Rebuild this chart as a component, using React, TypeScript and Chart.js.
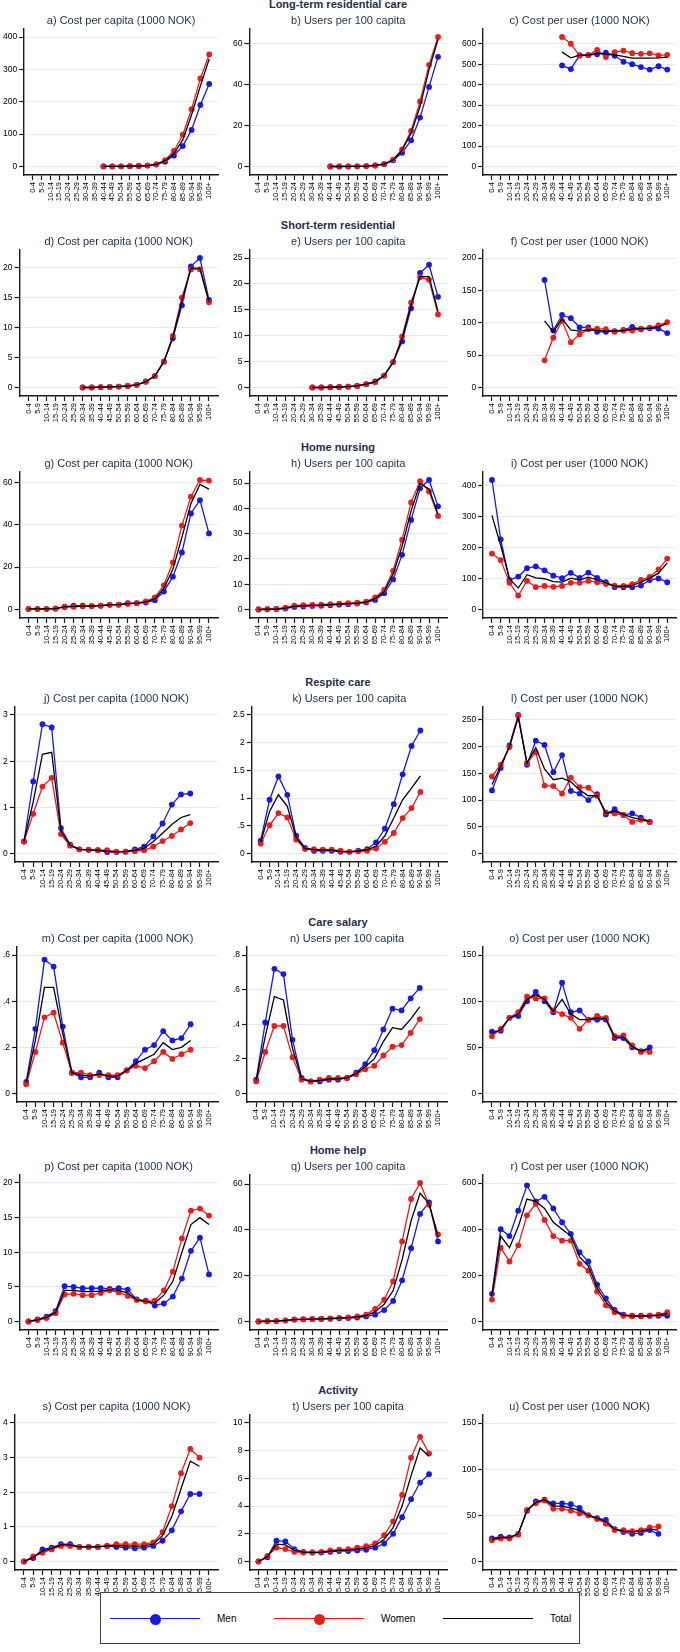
import React, { useEffect, useRef } from 'react';
import { Chart, registerables } from 'chart.js';
Chart.register(...registerables);

const n = null;
const AGES = ['0-4','5-9','10-14','15-19','20-24','25-29','30-34','35-39','40-44','45-49','50-54','55-59','60-64','65-69','70-74','75-79','80-84','85-89','90-94','95-99','100+'];

// Long-term residential care
const A_MEN = [n,n,n,n,n,n,n,n,0.2,0.3,0.5,1,1.5,3,6,15,34,63,113,190,255];
const A_WOMEN = [n,n,n,n,n,n,n,n,0.2,0.3,0.5,1,1.5,3,7,20,48,98,177,272,346];
const A_TOTAL = [n,n,n,n,n,n,n,n,0.2,0.3,0.5,1,1.5,3,6.5,18,40,82,160,249,332];
const A_TICKS = [0,100,200,300,400];
const B_MEN = [n,n,n,n,n,n,n,n,0,0,0.05,0.1,0.2,0.5,1.1,3.0,6.7,12.8,23.9,38.9,53.6];
const B_WOMEN = [n,n,n,n,n,n,n,n,0,0,0.05,0.1,0.2,0.5,1.2,3.4,8.4,17.4,31.8,49.7,63.3];
const B_TOTAL = [n,n,n,n,n,n,n,n,0,0,0.05,0.1,0.2,0.5,1.15,3.2,8.0,16.2,29.3,47.4,62.1];
const B_TICKS = [0,20,40,60];
const C_MEN = [n,n,n,n,n,n,n,n,494,476,544,544,549,556,541,512,500,486,474,490,474];
const C_WOMEN = [n,n,n,n,n,n,n,n,633,600,541,545,570,535,559,566,554,551,553,543,546];
const C_TOTAL = [n,n,n,n,n,n,n,n,559,531,544,544,554,549,546,538,530,530,530,531,535];
const C_TICKS = [0,100,200,300,400,500,600];

// Short-term residential
const D_MEN = [n,n,n,n,n,n,0,0,0.05,0.1,0.15,0.25,0.45,1.0,1.9,4.3,8.2,13.7,20.2,21.6,14.6];
const D_WOMEN = [n,n,n,n,n,n,0,0,0.05,0.1,0.15,0.25,0.45,0.95,1.9,4.3,8.6,15.0,19.7,19.7,14.2];
const D_TOTAL = [n,n,n,n,n,n,0,0,0.05,0.1,0.15,0.25,0.45,0.97,1.9,4.3,8.4,14.4,19.9,19.9,14.3];
const D_TICKS = [0,5,10,15,20];
const E_MEN = [n,n,n,n,n,n,0,0,0.05,0.1,0.15,0.3,0.65,1.2,2.3,4.9,8.9,15.3,22.1,23.7,17.5];
const E_WOMEN = [n,n,n,n,n,n,0,0,0.05,0.1,0.15,0.3,0.65,1.0,2.3,4.9,9.8,16.4,21.3,20.8,14.1];
const E_TOTAL = [n,n,n,n,n,n,0,0,0.05,0.1,0.15,0.3,0.65,1.1,2.3,4.9,9.4,16.0,21.4,21.4,14.7];
const E_TICKS = [0,5,10,15,20,25];
const F_MEN = [n,n,n,n,n,n,166,88,112,107,93,93,86,86,87,89,93.5,90,91.5,91,84];
const F_WOMEN = [n,n,n,n,n,n,42,77,103,70,82,90,91,90,86,88,88,91,92.5,96,101];
const F_TOTAL = [n,n,n,n,n,n,103,86,106,89,87,89,88,87,87,88,90,91,91.5,93.5,99];
const F_TICKS = [0,50,100,150,200];

// Home nursing
const G_MEN = [0.2,0.2,0.2,0.4,1.2,1.8,1.8,1.6,1.8,2.2,2.3,3.0,3.0,3.3,4.4,8.5,15.5,26.9,45.3,51.6,35.9];
const G_WOMEN = [0.3,0.3,0.3,0.5,1.3,1.3,1.5,1.6,1.8,2.2,2.3,2.6,3.0,3.8,5.7,11.4,22.2,39.6,53.2,61.1,60.8];
const G_TOTAL = [0.25,0.25,0.25,0.45,1.25,1.5,1.6,1.6,1.8,2.2,2.3,2.8,3.0,3.6,5.0,10.0,19.0,34.0,50.0,59.0,56.8];
const G_TICKS = [0,20,40,60];
const H_MEN = [0,0.1,0.2,0.4,1.0,1.2,1.4,1.5,1.7,1.9,2.1,2.4,2.8,3.8,6.4,11.9,21.6,35.4,47.9,51.2,40.8];
const H_WOMEN = [0,0.1,0.2,0.7,1.5,1.7,1.8,1.9,2.1,2.3,2.5,2.7,3.1,4.8,7.7,15.3,27.6,42.3,50.7,46.7,37.0];
const H_TOTAL = [0,0.1,0.2,0.55,1.25,1.45,1.6,1.7,1.9,2.1,2.3,2.55,2.95,4.3,7.0,14.0,25.0,39.0,49.7,47.7,37.7];
const H_TICKS = [0,10,20,30,40,50];
const I_MEN = [417,226,95,106,133,139,126,109,101,118,102,119,102,88,72,72,72,77,95,100,88];
const I_WOMEN = [180,159,86,45,92,72,76,73,76,86,86,92,88,82,77,76,82,95,105,129,164];
const I_TOTAL = [303,206,99,69,112,102,99,90,88,101,95,104,95,86,75,74,77,88,101,117,150];
const I_TICKS = [0,100,200,300,400];

// Respite care
const J_MEN = [0.26,1.56,2.80,2.73,0.55,0.19,0.09,0.08,0.07,0.03,0.03,0.04,0.09,0.15,0.37,0.65,1.06,1.28,1.30,n,n];
const J_WOMEN = [0.26,0.86,1.45,1.64,0.42,0.17,0.09,0.08,0.07,0.07,0.04,0.04,0.05,0.07,0.15,0.27,0.38,0.52,0.66,n,n];
const J_TOTAL = [0.26,1.12,2.15,2.19,0.48,0.18,0.09,0.08,0.07,0.05,0.035,0.04,0.07,0.11,0.26,0.44,0.63,0.78,0.84,n,n];
const J_TICKS = [0,1,2,3];
const K_MEN = [0.23,0.97,1.39,1.06,0.32,0.10,0.05,0.05,0.05,0.03,0.03,0.05,0.08,0.20,0.45,0.89,1.43,1.94,2.22,n,n];
const K_WOMEN = [0.18,0.51,0.73,0.65,0.25,0.08,0.08,0.07,0.07,0.05,0.03,0.04,0.05,0.09,0.21,0.37,0.64,0.82,1.11,n,n];
const K_TOTAL = [0.20,0.76,1.06,0.85,0.29,0.09,0.07,0.06,0.06,0.04,0.03,0.045,0.065,0.13,0.32,0.64,0.97,1.18,1.40,n,n];
const K_TICKS = [0,0.5,1,1.5,2,2.5];
const L_MEN = [118,160,202,259,166,211,203,152,184,117,112,100,111,73,83,72,75,67,59,n,n];
const L_WOMEN = [144,166,199,258,169,189,127,126,112,142,124,123,108,77,75,72,59,63,59,n,n];
const L_TOTAL = [129,163,200,254,169,198,158,138,141,134,119,108,108,75,79,73,67,64,60,n,n];
const L_TICKS = [0,50,100,150,200,250];

// Care salary
const M_MEN = [0.05,0.28,0.58,0.55,0.29,0.09,0.07,0.07,0.09,0.07,0.07,0.10,0.14,0.19,0.21,0.27,0.23,0.24,0.30,n,n];
const M_WOMEN = [0.04,0.18,0.33,0.35,0.22,0.09,0.09,0.08,0.08,0.08,0.08,0.10,0.12,0.11,0.14,0.18,0.15,0.17,0.19,n,n];
const M_TOTAL = [0.045,0.23,0.46,0.46,0.26,0.09,0.08,0.075,0.085,0.075,0.075,0.10,0.13,0.15,0.17,0.22,0.19,0.20,0.23,n,n];
const M_TICKS = [0,0.2,0.4,0.6];
const N_MEN = [0.08,0.41,0.72,0.69,0.31,0.09,0.07,0.07,0.08,0.08,0.09,0.12,0.17,0.25,0.37,0.49,0.48,0.55,0.61,n,n];
const N_WOMEN = [0.07,0.24,0.39,0.39,0.21,0.08,0.07,0.08,0.09,0.09,0.09,0.11,0.14,0.16,0.22,0.27,0.28,0.35,0.43,n,n];
const N_TOTAL = [0.075,0.33,0.56,0.54,0.26,0.085,0.07,0.075,0.085,0.085,0.09,0.115,0.155,0.20,0.30,0.38,0.37,0.43,0.50,n,n];
const N_TICKS = [0,0.2,0.4,0.6,0.8];
const O_MEN = [67,68,82,84,100,110,100,88,120,88,90,80,80,80,60,60,50,46,50,n,n];
const O_WOMEN = [62,70,82,88,105,103,103,90,86,82,70,80,84,82,62,63,52,45,45,n,n];
const O_TOTAL = [65,69,82,86,102,107,102,89,102,86,80,80,82,81,61,61,51,46,48,n,n];
const O_TICKS = [0,50,100,150];

// Home help
const P_MEN = [0,0.3,0.7,1.5,5.1,5.0,4.8,4.8,4.8,4.7,4.8,4.6,3.2,3.0,2.3,2.6,3.6,6.2,10.2,12.1,6.8];
const P_WOMEN = [0,0.2,0.5,1.2,3.9,4.0,3.8,3.8,4.1,4.5,4.2,3.7,3.1,2.9,3.0,4.5,7.2,12.0,16.0,16.3,15.3];
const P_TOTAL = [0,0.25,0.6,1.3,4.5,4.5,4.3,4.3,4.4,4.6,4.5,4.1,3.1,2.9,2.7,3.8,5.8,10.0,14.0,15.0,14.0];
const P_TICKS = [0,5,10,15,20];
const Q_MEN = [0,0.1,0.2,0.4,0.8,0.9,1.0,1.1,1.2,1.4,1.5,1.7,2.2,3.0,5.0,9.0,18.0,32.0,47.0,52.0,35.0];
const Q_WOMEN = [0,0.1,0.2,0.5,0.9,1.0,1.1,1.2,1.4,1.6,1.8,2.2,3.0,5.5,9.5,17.5,35.0,53.5,60.5,51.0,38.0];
const Q_TOTAL = [0,0.1,0.2,0.45,0.85,0.95,1.05,1.15,1.3,1.5,1.65,2.0,2.6,4.3,7.5,13.5,27.0,44.0,56.0,51.5,37.0];
const Q_TICKS = [0,20,40,60];
const R_MEN = [120,400,370,480,590,520,540,490,430,380,300,260,160,100,50,30,25,25,25,25,25];
const R_WOMEN = [95,320,260,330,460,510,440,370,350,350,250,220,130,70,40,25,22,22,25,30,40];
const R_TOTAL = [110,370,320,410,530,520,490,430,400,370,280,240,145,85,45,28,23,23,25,28,35];
const R_TICKS = [0,200,400,600];

// Activity
const S_MEN = [0,0.1,0.35,0.4,0.5,0.5,0.42,0.42,0.42,0.45,0.42,0.4,0.38,0.4,0.45,0.6,0.9,1.45,1.95,1.95,n];
const S_WOMEN = [0,0.15,0.25,0.35,0.45,0.45,0.42,0.42,0.42,0.45,0.5,0.5,0.5,0.5,0.55,0.85,1.6,2.55,3.25,3.0,n];
const S_TOTAL = [0,0.12,0.3,0.38,0.48,0.48,0.42,0.42,0.42,0.45,0.46,0.45,0.44,0.45,0.5,0.75,1.3,2.1,2.9,2.75,n];
const S_TICKS = [0,1,2,3,4];
const T_MEN = [0,0.3,1.5,1.45,0.9,0.7,0.65,0.65,0.7,0.75,0.75,0.8,0.85,1.0,1.3,2.0,3.2,4.5,5.7,6.3,n];
const T_WOMEN = [0,0.4,1.0,0.9,0.7,0.65,0.65,0.7,0.8,0.85,0.9,1.0,1.1,1.3,1.9,2.9,4.8,7.5,9.0,7.8,n];
const T_TOTAL = [0,0.35,1.25,1.2,0.8,0.68,0.65,0.68,0.75,0.8,0.82,0.9,0.98,1.15,1.6,2.45,4.0,6.2,8.2,7.6,n];
const T_TICKS = [0,2,4,6,8,10];
const U_MEN = [25,27,26,30,55,65,67,63,63,62,58,50,47,45,35,32,30,31,34,30,n];
const U_WOMEN = [23,25,25,29,56,63,66,57,57,55,52,50,46,41,34,34,33,34,37,38,n];
const U_TOTAL = [24,26,26,30,55,64,67,60,60,58,55,50,47,43,35,33,32,33,35,34,n];
const U_TICKS = [0,50,100,150];

const CAPITA = 'Cost per capita (1000 NOK)';
const USERS = 'Users per 100 capita';
const PERUSER = 'Cost per user (1000 NOK)';

const ROWS = [
  { head: 'Long-term residential care', t: 4, top: 29, h: 146, panels: [
    { title: 'a) ' + CAPITA, men: A_MEN, women: A_WOMEN, total: A_TOTAL, ticks: A_TICKS },
    { title: 'b) ' + USERS, men: B_MEN, women: B_WOMEN, total: B_TOTAL, ticks: B_TICKS },
    { title: 'c) ' + PERUSER, men: C_MEN, women: C_WOMEN, total: C_TOTAL, ticks: C_TICKS },
  ]},
  { head: 'Short-term residential', t: 225, top: 250, h: 146, panels: [
    { title: 'd) ' + CAPITA, men: D_MEN, women: D_WOMEN, total: D_TOTAL, ticks: D_TICKS },
    { title: 'e) ' + USERS, men: E_MEN, women: E_WOMEN, total: E_TOTAL, ticks: E_TICKS },
    { title: 'f) ' + PERUSER, men: F_MEN, women: F_WOMEN, total: F_TOTAL, ticks: F_TICKS },
  ]},
  { head: 'Home nursing', t: 447, top: 472, h: 146, panels: [
    { title: 'g) ' + CAPITA, men: G_MEN, women: G_WOMEN, total: G_TOTAL, ticks: G_TICKS },
    { title: 'h) ' + USERS, men: H_MEN, women: H_WOMEN, total: H_TOTAL, ticks: H_TICKS },
    { title: 'i) ' + PERUSER, men: I_MEN, women: I_WOMEN, total: I_TOTAL, ticks: I_TICKS },
  ]},
  { head: 'Respite care', t: 682, top: 707, h: 155, panels: [
    { title: 'j) ' + CAPITA, men: J_MEN, women: J_WOMEN, total: J_TOTAL, ticks: J_TICKS },
    { title: 'k) ' + USERS, men: K_MEN, women: K_WOMEN, total: K_TOTAL, ticks: K_TICKS },
    { title: 'l) ' + PERUSER, men: L_MEN, women: L_WOMEN, total: L_TOTAL, ticks: L_TICKS },
  ]},
  { head: 'Care salary', t: 922, top: 947, h: 155, panels: [
    { title: 'm) ' + CAPITA, men: M_MEN, women: M_WOMEN, total: M_TOTAL, ticks: M_TICKS },
    { title: 'n) ' + USERS, men: N_MEN, women: N_WOMEN, total: N_TOTAL, ticks: N_TICKS },
    { title: 'o) ' + PERUSER, men: O_MEN, women: O_WOMEN, total: O_TOTAL, ticks: O_TICKS },
  ]},
  { head: 'Home help', t: 1150, top: 1175, h: 155, panels: [
    { title: 'p) ' + CAPITA, men: P_MEN, women: P_WOMEN, total: P_TOTAL, ticks: P_TICKS },
    { title: 'q) ' + USERS, men: Q_MEN, women: Q_WOMEN, total: Q_TOTAL, ticks: Q_TICKS },
    { title: 'r) ' + PERUSER, men: R_MEN, women: R_WOMEN, total: R_TOTAL, ticks: R_TICKS },
  ]},
  { head: 'Activity', t: 1390, top: 1415, h: 155, panels: [
    { title: 's) ' + CAPITA, men: S_MEN, women: S_WOMEN, total: S_TOTAL, ticks: S_TICKS },
    { title: 't) ' + USERS, men: T_MEN, women: T_WOMEN, total: T_TOTAL, ticks: T_TICKS },
    { title: 'u) ' + PERUSER, men: U_MEN, women: U_WOMEN, total: U_TOTAL, ticks: U_TICKS },
  ]},
];

const COLS = [{ left: 1, right: 222 }, { left: 231, right: 451 }, { left: 460, right: 680 }];

const FONT = "'Liberation Sans', Arial, Helvetica, sans-serif";
const NAVY = '#1f2d4d';
const BLUE = '#1818e8';
const RED = '#ec1c1c';
const AXIS = '#1a1a1a';
const GRID = '#e3ebf1';
const TITLE_BOX = 15;
const XAXIS_H = 30;

function fmt(v: number) {
  const s = String(+v.toFixed(4));
  return s.startsWith('0.') ? s.slice(1) : s;
}

function toXY(arr: (number | null)[]) {
  return arr.map((v, i) => ({ x: i, y: v }));
}

function Panel({ p, left, width, top, plotH }: any) {
  const ref = useRef<HTMLCanvasElement>(null);
  const canvasH = TITLE_BOX + plotH + XAXIS_H;
  useEffect(() => {
    const vals = [...p.men, ...p.women, ...p.total].filter((v: any) => v != null) as number[];
    const vmax = Math.max(p.ticks[p.ticks.length - 1], ...vals);
    const vmin = Math.min(p.ticks[0], ...vals);
    const u = (vmax - vmin) / (plotH - 16.5);
    const chart = new Chart(ref.current as HTMLCanvasElement, {
      type: 'line',
      data: {
        datasets: [
          { label: 'Total', data: toXY(p.total), borderColor: '#000', backgroundColor: '#000', borderWidth: 1.3, pointRadius: 0, tension: 0, order: 1 },
          { label: 'Women', data: toXY(p.women), borderColor: RED, backgroundColor: RED, borderWidth: 1.3, pointRadius: 2.9, pointBorderWidth: 0, pointBackgroundColor: RED, tension: 0, order: 2 },
          { label: 'Men', data: toXY(p.men), borderColor: BLUE, backgroundColor: BLUE, borderWidth: 1.3, pointRadius: 2.9, pointBorderWidth: 0, pointBackgroundColor: BLUE, tension: 0, order: 3 },
        ] as any,
      },
      options: {
        animation: false,
        responsive: false,
        maintainAspectRatio: false,
        events: [],
        layout: { padding: 0 },
        plugins: {
          legend: { display: false },
          tooltip: { enabled: false },
          title: {
            display: true,
            text: p.title,
            fullSize: false,
            color: NAVY,
            font: { family: FONT, size: 11, weight: 'normal', lineHeight: 1.2 },
            padding: { top: 0.4, bottom: 1.4 },
          },
        },
        scales: {
          x: {
            type: 'linear',
            min: -1,
            max: 21,
            afterBuildTicks: (s: any) => { s.ticks = AGES.map((_, i) => ({ value: i })); },
            afterFit: (s: any) => { s.height = XAXIS_H; },
            ticks: {
              autoSkip: false,
              maxRotation: 90,
              minRotation: 90,
              padding: 2,
              color: '#000',
              font: { family: FONT, size: 7.5 },
              callback: (v: any) => AGES[v as number],
            },
            grid: { display: true, drawOnChartArea: false, drawTicks: true, tickLength: 5, tickColor: AXIS, tickWidth: 1.2 },
            border: { display: true, color: AXIS, width: 1.4 },
          },
          y: {
            type: 'linear',
            min: vmin - 8.5 * u,
            max: vmax + 8 * u,
            afterBuildTicks: (s: any) => { s.ticks = p.ticks.map((v: number) => ({ value: v })); },
            ticks: {
              padding: 2,
              color: '#000',
              font: { family: FONT, size: 8.5 },
              callback: (v: any) => fmt(v as number),
            },
            grid: { display: true, drawOnChartArea: true, drawTicks: true, tickLength: 5, color: GRID, lineWidth: 1, tickColor: AXIS, tickWidth: 1.2 },
            border: { display: true, color: AXIS, width: 1.4 },
          },
        },
      } as any,
    });
    return () => chart.destroy();
  }, []);
  return (
    <canvas
      ref={ref}
      width={width}
      height={canvasH}
      style={{ position: 'absolute', left, top: top - TITLE_BOX, width, height: canvasH }}
    />
  );
}

function LegendItem({ x, color, dot, label }: any) {
  return (
    <>
      <div style={{ position: 'absolute', left: x, top: 25, width: 90, height: 0, borderTop: `1.5px solid ${color}` }} />
      {dot && <div style={{ position: 'absolute', left: x + 40, top: 20.5, width: 11, height: 11, borderRadius: '50%', background: color }} />}
      <div style={{ position: 'absolute', left: x + 107, top: 19, fontSize: 10, lineHeight: '13px', color: '#000', fontFamily: FONT }}>{label}</div>
    </>
  );
}

export default function App() {
  return (
    <div style={{ position: 'absolute', left: 0, top: 0, width: 680, height: 1652, background: '#fff', overflow: 'hidden', fontFamily: FONT }}>
      {ROWS.map((r, ri) => (
        <React.Fragment key={ri}>
          <div style={{ position: 'absolute', left: 0, width: 676, top: r.t - 7, textAlign: 'center', fontWeight: 'bold', fontSize: 11, lineHeight: '14px', color: NAVY }}>
            {r.head}
          </div>
          {r.panels.map((p, ci) => (
            <Panel key={ci} p={p} left={COLS[ci].left} width={COLS[ci].right - COLS[ci].left} top={r.top} plotH={r.h} />
          ))}
        </React.Fragment>
      ))}
      <div style={{ position: 'absolute', left: 100, top: 1592, width: 480, height: 52, border: '1px solid #444', boxSizing: 'border-box', background: '#fff' }}>
        <LegendItem x={9} color={BLUE} dot label="Men" />
        <LegendItem x={173} color={RED} dot label="Women" />
        <LegendItem x={342} color="#000" dot={false} label="Total" />
      </div>
    </div>
  );
}
